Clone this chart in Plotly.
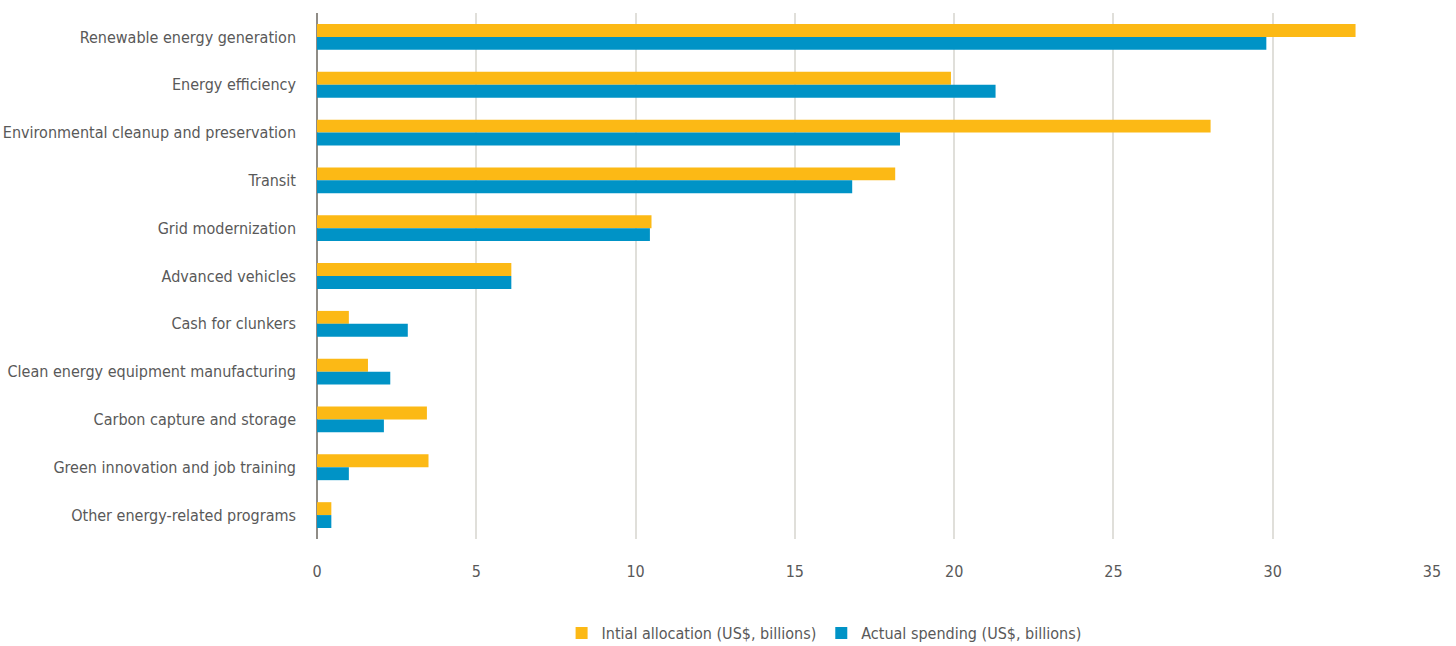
import plotly.graph_objects as go

categories = [
    "Renewable energy generation",
    "Energy efficiency",
    "Environmental cleanup and preservation",
    "Transit",
    "Grid modernization",
    "Advanced vehicles",
    "Cash for clunkers",
    "Clean energy equipment manufacturing",
    "Carbon capture and storage",
    "Green innovation and job training",
    "Other energy-related programs",
]
initial_allocation = [32.6, 19.9, 28.05, 18.15, 10.5, 6.1, 1.0, 1.6, 3.45, 3.5, 0.45]
actual_spending = [29.8, 21.3, 18.3, 16.8, 10.45, 6.1, 2.85, 2.3, 2.1, 1.0, 0.45]
x_ticks = [0, 5, 10, 15, 20, 25, 30, 35]

FONT = "DejaVu Sans Condensed, sans-serif"
TEXT = "#595959"
SIZE = 16

fig = go.Figure()
fig.add_trace(go.Bar(
    y=categories, x=initial_allocation, orientation="h",
    name="Intial allocation (US$, billions)", marker=dict(color="#FCB915", line=dict(width=0)),
))
fig.add_trace(go.Bar(
    y=categories, x=actual_spending, orientation="h",
    name="Actual spending (US$, billions)", marker=dict(color="#0093C6", line=dict(width=0)),
))

fig.update_layout(
    width=1456, height=646,
    margin=dict(l=317, r=24, t=13, b=107, autoexpand=False),
    paper_bgcolor="white", plot_bgcolor="white",
    barmode="group", bargap=0.46, bargroupgap=0,
    font=dict(family=FONT, size=SIZE, color=TEXT),
    legend=dict(
        orientation="h", xref="container", yref="container",
        x=0.566, xanchor="center", y=(646 - 633) / 646, yanchor="middle",
        font=dict(family=FONT, size=SIZE, color=TEXT), itemwidth=30,
        traceorder="normal",
    ),
    xaxis=dict(
        range=[0, 35], tickvals=x_ticks, showgrid=True, gridcolor="#E0DFDA", gridwidth=2,
        zeroline=True, zerolinecolor="#8F8C86", zerolinewidth=2, showline=False,
        automargin=False,
        ticklabelstandoff=21, tickfont=dict(family=FONT, size=SIZE, color=TEXT),
    ),
    yaxis=dict(
        autorange="reversed", showgrid=False, zeroline=False, showline=False,
        automargin=False,
        ticklabelstandoff=20, tickfont=dict(family=FONT, size=SIZE, color=TEXT),
    ),
)

fig.write_html("out.html")
